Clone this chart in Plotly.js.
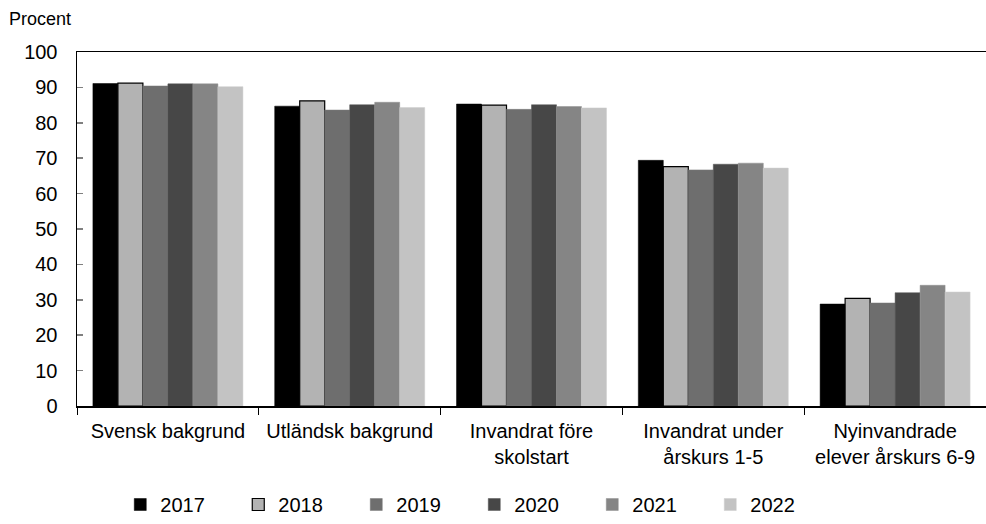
<!DOCTYPE html>
<html>
<head>
<meta charset="utf-8">
<script src="https://cdn.plot.ly/plotly-3.0.1.min.js"></script>
<style>html,body{margin:0;padding:0;background:#fff;}#chart{width:986px;height:524px;}</style>
</head>
<body>
<div id="chart"></div>
<script>
const categories = ["Svensk bakgrund", "Utländsk bakgrund", "Invandrat före<br>skolstart", "Invandrat under<br>årskurs 1-5", "Nyinvandrade<br>elever årskurs 6-9"];
const years = ["2017", "2018", "2019", "2020", "2021", "2022"];
const v2017 = [91.1, 84.7, 85.3, 69.4, 28.8];
const v2018 = [91.2, 86.2, 85.0, 67.6, 30.4];
const v2019 = [90.4, 83.6, 83.8, 66.7, 29.1];
const v2020 = [91.0, 85.1, 85.1, 68.3, 32.0];
const v2021 = [91.0, 85.8, 84.6, 68.6, 34.1];
const v2022 = [90.2, 84.3, 84.2, 67.2, 32.2];
const yTicks = [0, 10, 20, 30, 40, 50, 60, 70, 80, 90, 100];

const series = [v2017, v2018, v2019, v2020, v2021, v2022];
const colors = ["#000000", "#b3b3b3", "#6e6e6e", "#474747", "#858585", "#c3c3c3"];
const lineColors = ["#000000", "#000000", "#7a7a7a", "#555555", "#909090", "#cccccc"];
const lineWidths = [0.5, 1.2, 0.5, 0.5, 0.5, 0.5];

const traces = series.map((vals, i) => ({
  type: "bar",
  name: years[i],
  x: categories,
  y: vals,
  marker: {color: colors[i], line: {color: lineColors[i], width: lineWidths[i]}},
  hoverinfo: "x+y+name"
}));

const font = {family: "Liberation Sans, Arial, sans-serif", size: 20, color: "#000"};
const layout = {
  width: 986, height: 524,
  margin: {l: 77, r: 0, t: 52, b: 118},
  paper_bgcolor: "#fff", plot_bgcolor: "#fff",
  font: font,
  barmode: "group",
  bargap: 0.175,
  bargroupgap: 0,
  showlegend: true,
  legend: {orientation: "h", xref: "container", yref: "container",
           x: 0.481, xanchor: "center", y: -0.022, yanchor: "bottom",
           font: {family: font.family, size: 20, color: "#000"},
           itemwidth: 30, entrywidth: 73, entrywidthmode: "pixels", traceorder: "normal"},
  xaxis: {type: "category", showline: true, linecolor: "#000", linewidth: 1.5, mirror: true,
          ticks: "outside", tickson: "boundaries", ticklen: 7, tickcolor: "#000", tickwidth: 1,
          showgrid: false, zeroline: false, tickfont: font, ticklabelstandoff: 6, automargin: false},
  yaxis: {range: [0, 100], tickvals: yTicks, ticktext: yTicks.map(String),
          showline: true, linecolor: "#000", linewidth: 1.5,
          ticks: "inside", ticklen: 6, tickcolor: "#808080", tickwidth: 1.5,
          showgrid: false, zeroline: false, tickfont: font, ticklabelstandoff: 14, automargin: false},
  annotations: [{text: "Procent", xref: "paper", yref: "paper", x: -0.077, y: 1.093,
                 xanchor: "left", yanchor: "middle", showarrow: false,
                 font: {family: font.family, size: 18, color: "#000"}}]
};

Plotly.newPlot("chart", traces, layout, {displayModeBar: false, staticPlot: true});
</script>
</body>
</html>
